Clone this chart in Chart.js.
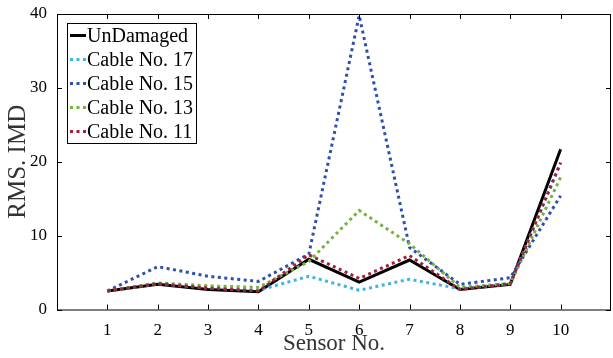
<!DOCTYPE html>
<html>
<head>
<meta charset="utf-8">
<script src="https://cdn.jsdelivr.net/npm/chart.js@4.4.0/dist/chart.umd.min.js"></script>
<style>
  html, body { margin: 0; padding: 0; background: #fff; }
  #wrap { width: 613px; height: 358px; }
</style>
</head>
<body>
<div id="wrap"><canvas id="rmsChart" width="613" height="358"></canvas></div>
<script>
// sensor positions along the x axis
const sensors = [1, 2, 3, 4, 5, 6, 7, 8, 9, 10];

// RMS IMD values
const undamaged = [2.5, 3.4, 2.7, 2.4, 6.8, 3.7, 6.7, 2.7, 3.4, 21.7];
const cable17 = [2.5, 3.5, 2.9, 2.6, 4.5, 2.6, 4.1, 2.8, 3.5, 19.8];
const cable15 = [2.5, 5.8, 4.5, 3.8, 7.5, 39.8, 8.4, 3.4, 4.3, 15.4];
const cable13 = [2.5, 3.6, 3.2, 3.0, 6.5, 13.4, 8.9, 3.0, 3.5, 17.9];
const cable11 = [2.5, 3.5, 2.9, 2.5, 7.4, 4.2, 7.3, 2.7, 3.5, 19.9];

const seriesNames = ['UnDamaged', 'Cable No. 17', 'Cable No. 15', 'Cable No. 13', 'Cable No. 11'];
const yTicks = [0, 10, 20, 30, 40];

const serif = '"Liberation Serif", "Times New Roman", serif';

function points(values) {
    return sensors.map((s, i) => ({ x: s, y: values[i] }));
}

function makeSet(name, values, color, dashed, order) {
    return {
        label: name,
        data: points(values),
        borderColor: color,
        backgroundColor: color,
        borderWidth: 3,
        borderDash: dashed ? [3, 3.5] : [],
        borderCapStyle: 'butt',
        pointRadius: 0,
        tension: 0,
        fill: false,
        order: order
    };
}

// frame around the plot with inward ticks on all four sides
const framePlugin = {
    id: 'frame',
    afterDatasetsDraw(chart) {
        const ctx = chart.ctx;
        const a = chart.chartArea;
        const xs = chart.scales.x;
        const ys = chart.scales.y;
        ctx.save();
        ctx.strokeStyle = '#000';
        ctx.lineWidth = 1;
        ctx.setLineDash([]);
        ctx.strokeRect(a.left + 0.5, a.top + 0.5, a.right - a.left - 1, a.bottom - a.top);
        ctx.beginPath();
        sensors.forEach(s => {
            const px = Math.round(xs.getPixelForValue(s)) + 0.5;
            ctx.moveTo(px, a.bottom); ctx.lineTo(px, a.bottom - 5);
            ctx.moveTo(px, a.top); ctx.lineTo(px, a.top + 5);
        });
        yTicks.forEach(v => {
            const py = Math.round(ys.getPixelForValue(v)) + 0.5;
            ctx.moveTo(a.left, py); ctx.lineTo(a.left + 5, py);
            ctx.moveTo(a.right, py); ctx.lineTo(a.right - 5, py);
        });
        ctx.stroke();
        ctx.restore();
    }
};

// boxed legend in the upper left corner of the plot
const legendPlugin = {
    id: 'boxLegend',
    afterDraw(chart) {
        const ctx = chart.ctx;
        const a = chart.chartArea;
        const bx = a.left + 10, by = a.top + 9, bw = 129, bh = 120;
        ctx.save();
        ctx.fillStyle = '#fff';
        ctx.fillRect(bx, by, bw, bh);
        ctx.strokeStyle = '#000';
        ctx.lineWidth = 1;
        ctx.strokeRect(bx + 0.5, by + 0.5, bw, bh);
        ctx.font = '20px ' + serif;
        ctx.textBaseline = 'middle';
        chart.data.datasets.forEach((ds, i) => {
            const cy = by + 12.5 + i * 24;
            ctx.strokeStyle = ds.borderColor;
            ctx.lineWidth = 3;
            ctx.lineCap = 'butt';
            ctx.setLineDash(ds.borderDash);
            ctx.beginPath();
            ctx.moveTo(bx + 3, cy);
            ctx.lineTo(bx + 19, cy);
            ctx.stroke();
            ctx.setLineDash([]);
            ctx.fillStyle = '#000';
            ctx.fillText(ds.label, bx + 20, cy + 1);
        });
        ctx.restore();
    }
};

const ctx = document.getElementById('rmsChart').getContext('2d');
const rmsChart = new Chart(ctx, {
    type: 'line',
    data: {
        datasets: [
            makeSet(seriesNames[0], undamaged, '#000000', false, 5),
            makeSet(seriesNames[1], cable17, '#3fb5e6', true, 4),
            makeSet(seriesNames[2], cable15, '#2e4fae', true, 3),
            makeSet(seriesNames[3], cable13, '#77b043', true, 2),
            makeSet(seriesNames[4], cable11, '#a3203c', true, 1)
        ]
    },
    options: {
        responsive: false,
        animation: false,
        layout: { padding: { top: 14, right: 2, left: 0, bottom: 0 } },
        plugins: {
            legend: { display: false },
            tooltip: { enabled: false }
        },
        scales: {
            x: {
                type: 'linear',
                min: 0,
                max: 11,
                afterFit: scale => { scale.height = 48.5; },
                afterBuildTicks: scale => {
                    scale.ticks = sensors.map(v => ({ value: v }));
                },
                grid: { display: false },
                border: { display: false },
                ticks: {
                    color: '#000',
                    font: { family: serif, size: 17 },
                    padding: 3,
                    maxRotation: 0,
                    autoSkip: false
                },
                title: {
                    display: true,
                    text: 'Sensor No.',
                    color: '#333',
                    font: { family: serif, size: 23 },
                    padding: { top: 0, bottom: 0 }
                }
            },
            y: {
                min: 0,
                max: 40,
                afterFit: scale => { scale.width = 57; },
                afterBuildTicks: scale => {
                    scale.ticks = yTicks.map(v => ({ value: v }));
                },
                grid: { display: false },
                border: { display: false },
                ticks: {
                    color: '#000',
                    font: { family: serif, size: 17 },
                    padding: 2
                },
                title: {
                    display: true,
                    text: 'RMS. IMD',
                    color: '#333',
                    font: { family: serif, size: 25 },
                    padding: { top: 3, bottom: 0 }
                }
            }
        }
    },
    plugins: [framePlugin, legendPlugin]
});
</script>
</body>
</html>
